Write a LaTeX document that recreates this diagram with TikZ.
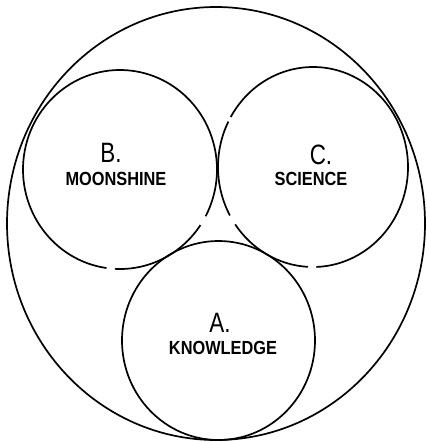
\documentclass[tikz,border=0pt]{standalone}
\usepackage{fontspec}
\newfontfamily\lblfont[FakeStretch=0.86]{Liberation Sans}
\newfontfamily\letfont[FakeStretch=0.8]{Liberation Sans}
\begin{document}
\begin{tikzpicture}[x=1pt,y=-1pt,
  ring/.style={draw=black,line width=1.7pt},
  word/.style={inner sep=0pt,font=\lblfont\bfseries\fontsize{19}{19}\selectfont},
  letter/.style={inner sep=0pt,font=\letfont\fontsize{28}{28}\selectfont}]
\useasboundingbox (0,0) rectangle (427,442);
\fill[white] (0,0) rectangle (427,442);
% centres
\coordinate (cBig) at (216,223.5);
\coordinate (cA) at (218.5,340.5);
\coordinate (cB) at (120,169.5);
\coordinate (cC) at (313,167);
% outer circle
\draw[ring] (cBig) ellipse [x radius=209, y radius=216.5];
% A: knowledge
\draw[ring] (cA) ellipse [x radius=96.5, y radius=99.5];
% B: moonshine, with gaps
\draw[ring] ([shift={(34:97 and 99.5)}]cB) arc[start angle=34, end angle=93, x radius=97, y radius=99.5];
\draw[ring] ([shift={(98:97 and 99.5)}]cB) arc[start angle=98, end angle=388, x radius=97, y radius=99.5];
% C: science, with gaps
\draw[ring] ([shift={(93:95 and 100)}]cC) arc[start angle=93, end angle=145, x radius=95, y radius=100];
\draw[ring] ([shift={(151:95 and 100)}]cC) arc[start angle=151, end angle=207, x radius=95, y radius=100];
\draw[ring] ([shift={(210:95 and 100)}]cC) arc[start angle=210, end angle=448, x radius=95, y radius=100];
% labels
\node[letter] (lB) at (111,153) {B.};
\node[word] (wB) at (116,179) {MOONSHINE};
\node[letter] (lC) at (321,155) {C.};
\node[word] (wC) at (311,179) {SCIENCE};
\node[letter] (lA) at (220,323) {A.};
\node[word] (wA) at (223,348) {KNOWLEDGE};
\end{tikzpicture}
\end{document}
